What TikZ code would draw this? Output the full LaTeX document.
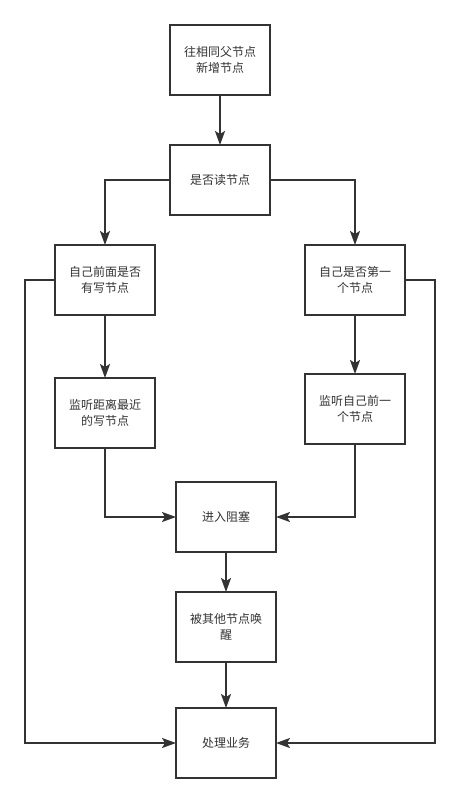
\documentclass[tikz,border=0pt]{standalone}
\usepackage{fontspec}
\setmainfont{Noto Sans CJK SC}
\usetikzlibrary{positioning}
\usetikzlibrary{arrows.meta}
\definecolor{darkgrey}{HTML}{333333}
\tikzset {
        stepbox/.style={align=center,inner sep=0pt, outer sep=0pt, rectangle, text width=90pt, draw=darkgrey, line width=1.8pt, text=darkgrey, minimum width=100pt, minimum height=70pt, font=\fontsize{12pt}{16pt}\selectfont},
        flow/.style={draw=darkgrey, line width=1.8pt, -{Stealth[length=14pt,width=10pt,inset=3pt]}}
}
\begin{document}
\begin{tikzpicture}[x=1pt,y=-1pt]
            \useasboundingbox (0,0) rectangle (459,803);
            \node[stepbox] (AddNode) at (220,60) {
                往相同父节点\\新增节点
            };
            \node[stepbox, below=50pt of AddNode] (IsRead) {
                是否读节点
            };
            \node[stepbox, below=30pt of IsRead, xshift=-115pt] (HasWrite) {
                自己前面是否\\有写节点
            };
            \node[stepbox, below=30pt of IsRead, xshift=135pt] (IsFirst) {
                自己是否第一\\个节点
            };
            \node[stepbox, below=63pt of HasWrite] (WatchWrite) {
                监听距离最近\\的写节点
            };
            \node[stepbox, below=59pt of IsFirst] (WatchPrev) {
                监听自己前一\\个节点
            };
            \node[stepbox] (Block) at (226,517) {
                进入阻塞
            };
            \node[stepbox, below=40pt of Block] (WakeUp) {
                被其他节点唤\\醒
            };
            \node[stepbox, below=46pt of WakeUp] (Handle) {
                处理业务
            };
            \coordinate (LeftRail) at (25,0);
            \coordinate (RightRail) at (435,0);
            \draw[flow] (AddNode) -- (IsRead);
            \draw[flow] (IsRead.west) -| (HasWrite);
            \draw[flow] (IsRead.east) -| (IsFirst);
            \draw[flow] (HasWrite) -- (WatchWrite);
            \draw[flow] (IsFirst) -- (WatchPrev);
            \draw[flow] (WatchWrite.south) |- (Block.west);
            \draw[flow] (WatchPrev.south) |- (Block.east);
            \draw[flow] (Block) -- (WakeUp);
            \draw[flow] (WakeUp) -- (Handle);
            \draw[flow] (HasWrite.west) -- (HasWrite.west -| LeftRail) |- (Handle.west);
            \draw[flow] (IsFirst.east) -- (IsFirst.east -| RightRail) |- (Handle.east);
        \end{tikzpicture}
\end{document}
